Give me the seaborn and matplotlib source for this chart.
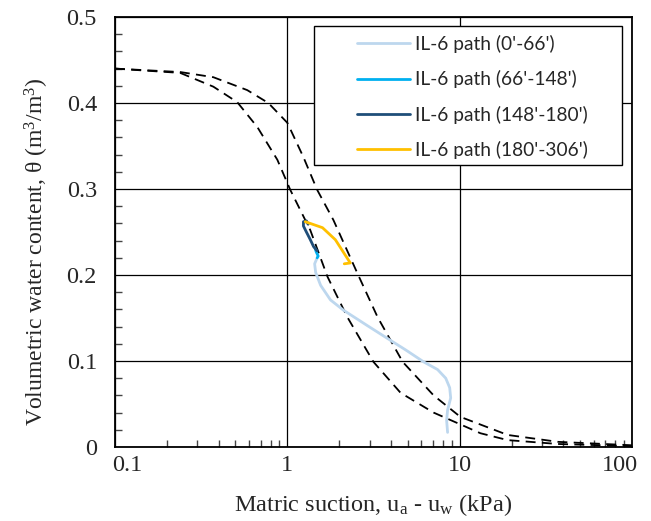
import seaborn as sns
import matplotlib.pyplot as plt
import matplotlib.ticker as mticker
from matplotlib.lines import Line2D
from matplotlib.patches import Rectangle
from matplotlib.legend_handler import HandlerBase

# SWCC boundary curves
wet_suction = [0.1, 0.239, 0.372, 0.512, 0.670, 0.875, 1.04, 1.36, 1.71, 2.23, 3.16, 4.54, 7.06, 13.2, 19.0, 37.2, 100]
wet_theta = [0.440, 0.435, 0.419, 0.401, 0.372, 0.334, 0.299, 0.252, 0.198, 0.151, 0.099, 0.063, 0.040, 0.016, 0.008, 0.0035, 0.001]

dry_suction = [0.1, 0.239, 0.372, 0.585, 0.776, 1.0, 1.24, 1.49, 1.85, 2.55, 3.34, 4.67, 7.06, 10.1, 19.0, 37.2, 100]
dry_theta = [0.440, 0.436, 0.430, 0.415, 0.400, 0.377, 0.337, 0.299, 0.264, 0.202, 0.151, 0.099, 0.060, 0.035, 0.014, 0.006, 0.002]

# IL-6 paths
p1_suction = [8.51, 8.40, 8.51, 8.87, 8.75, 8.30, 7.45, 6.18, 4.85, 3.97, 2.92, 2.12, 1.78, 1.56, 1.46, 1.44, 1.49]
p1_theta = [0.017, 0.031, 0.043, 0.057, 0.069, 0.080, 0.090, 0.099, 0.113, 0.124, 0.141, 0.159, 0.171, 0.188, 0.203, 0.213, 0.220]

p2_suction = [1.49, 1.51, 1.47, 1.45]
p2_theta = [0.220, 0.222, 0.227, 0.231]

p3_suction = [1.49, 1.42, 1.36, 1.29, 1.24, 1.24, 1.29, 1.32]
p3_theta = [0.228, 0.233, 0.241, 0.250, 0.257, 0.262, 0.263, 0.259]

p4_suction = [1.27, 1.60, 1.90, 2.17, 2.32, 2.14]
p4_theta = [0.262, 0.255, 0.241, 0.223, 0.214, 0.213]

labels = ["IL-6 path (0'-66')", "IL-6 path (66'-148')", "IL-6 path (148'-180')", "IL-6 path (180'-306')"]
colors = ['#BDD7EE', '#00B0F0', '#1F4E79', '#FFC000']
x_ticks = [0.1, 1, 10, 100]
x_tick_labels = ['0.1', '1', '10', '100']


class ShortLine(HandlerBase):
    # legend line drawn only in the right part of the handle box
    def create_artists(self, legend, orig_handle, xdescent, ydescent, width, height, fontsize, trans):
        seg = 53 * 72 / 100
        y = height / 2 - ydescent
        line = Line2D([width - xdescent - seg, width - xdescent], [y, y],
                      color=orig_handle.get_color(), lw=orig_handle.get_linewidth(), transform=trans)
        return [line]


sns.set_style('white')
plt.rcParams['font.family'] = ['Liberation Serif', 'DejaVu Serif']
plt.rcParams['mathtext.fontset'] = 'custom'
plt.rcParams['mathtext.rm'] = 'Liberation Serif'
plt.rcParams['mathtext.it'] = 'Liberation Serif:italic'

fig = plt.figure(figsize=(6.51, 5.21), dpi=100)
ax = fig.add_axes([115 / 651, 1 - 447 / 521, 517 / 651, 430 / 521])

for s, t in [(wet_suction, wet_theta), (dry_suction, dry_theta)]:
    sns.lineplot(x=s, y=t, sort=False, estimator=None, color='black', lw=1.3,
                 ax=ax, linestyle=(0, (5.5, 3.5)))

paths = [(p1_suction, p1_theta), (p2_suction, p2_theta), (p3_suction, p3_theta), (p4_suction, p4_theta)]
for (s, t), lab, c in zip(paths, labels, colors):
    sns.lineplot(x=s, y=t, sort=False, estimator=None, color=c, lw=2, ax=ax, label=lab)

# legend box with white fill, hides the grid behind it
ax.add_patch(Rectangle((314 / 651, 1 - 165 / 521), 308 / 651, 139 / 521, transform=fig.transFigure,
                       facecolor='white', edgecolor='black', lw=1, zorder=4))

ax.set_xscale('log')
ax.set_xlim(0.1, 100)
ax.set_ylim(0, 0.5)
ax.xaxis.set_major_locator(mticker.FixedLocator(x_ticks))
ax.xaxis.set_major_formatter(mticker.NullFormatter())
ax.xaxis.set_minor_locator(mticker.LogLocator(base=10, subs=range(2, 10)))
ax.xaxis.set_minor_formatter(mticker.NullFormatter())
ax.yaxis.set_major_locator(mticker.MultipleLocator(0.1))
ax.yaxis.set_major_formatter(mticker.FuncFormatter(lambda v, p: f'{v:g}'))
ax.yaxis.set_minor_locator(mticker.MultipleLocator(0.02))

# x labels: the end ones sit inside the axis ends, as in the original
x_shift = [0, 0, 0, -12]
x_align = ['left', 'center', 'center', 'center']
for v, txt, dx, ha in zip(x_ticks, x_tick_labels, x_shift, x_align):
    ax.annotate(txt, xy=(v, 0), xycoords=('data', 'axes fraction'), xytext=(dx - (3 if ha == 'left' else 0), -8),
                textcoords='offset pixels', ha=ha, va='top', fontsize=17.5, annotation_clip=False)

ax.grid(True, which='major', color='black', lw=0.9)
ax.tick_params(which='both', direction='in', labelsize=17.5, bottom=True, left=True, top=False, right=False)
ax.tick_params(which='major', length=0)
ax.tick_params(axis='y', which='major', pad=13)
ax.tick_params(which='minor', length=5, width=1, color='#444444')
for sp in ax.spines.values():
    sp.set_color('black')
    sp.set_linewidth(1.3)

ax.set_xlabel('Matric suction, u$_\\mathrm{a}$ - u$_\\mathrm{w}$ (kPa)', fontsize=17.5)
ax.xaxis.set_label_coords(0.5, -0.105)
ax.set_ylabel('Volumetric water content, θ (m$^\\mathrm{3}$/m$^\\mathrm{3}$)', fontsize=17)
ax.yaxis.set_label_coords(-0.124, 0.455)

handles = ax.get_legend_handles_labels()[0]
for h in handles:
    h.set_linewidth(2)
leg = ax.legend(handles, labels, loc='upper left', bbox_to_anchor=(314 / 651, 1 - 35 / 521),
                bbox_transform=fig.transFigure, frameon=False, prop={'family': 'Lato', 'size': 13.8},
                handler_map={Line2D: ShortLine()}, handlelength=96 / 19.2, handletextpad=0.28,
                labelspacing=0.9, borderpad=0, borderaxespad=0)
leg.set_zorder(5)

fig.savefig('out.png', dpi=100)
